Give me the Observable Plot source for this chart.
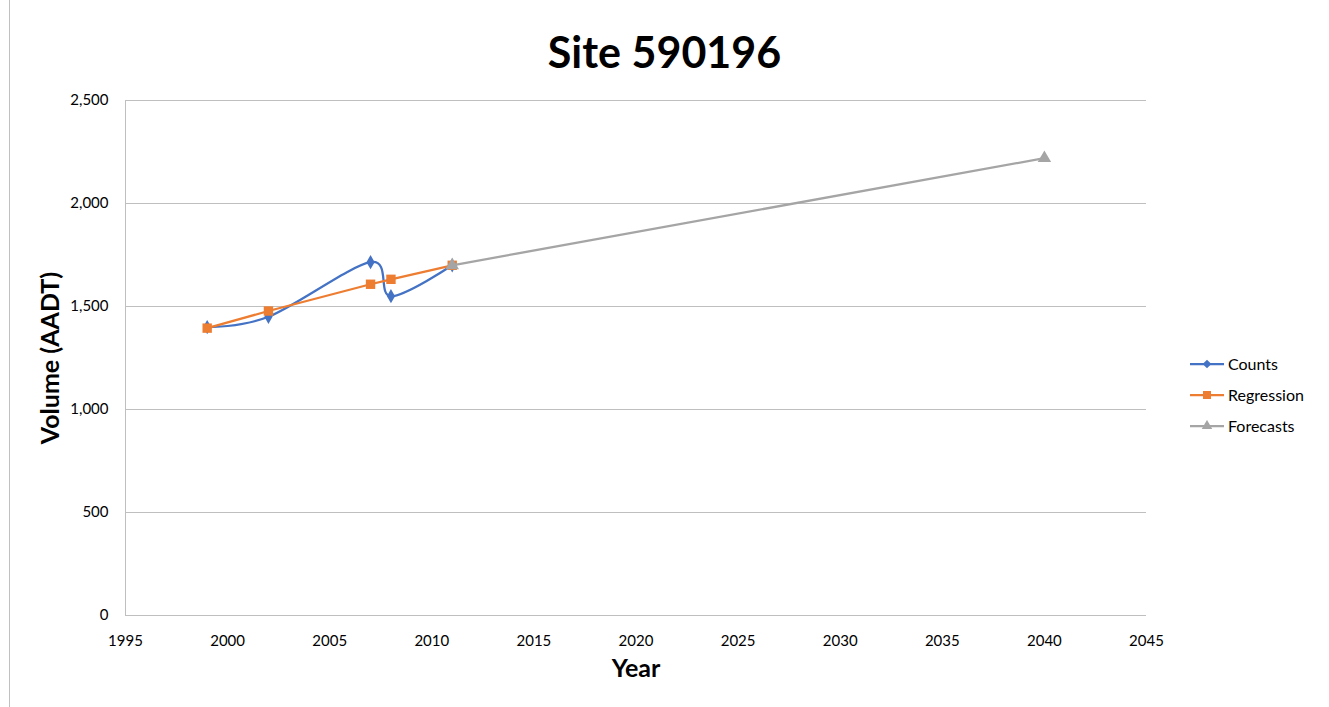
<!DOCTYPE html>
<html>
<head>
<meta charset="utf-8">
<script src="https://cdn.jsdelivr.net/npm/d3@7"></script>
<script src="https://cdn.jsdelivr.net/npm/@observablehq/plot@0.6"></script>
<style>
  html, body { margin: 0; padding: 0; background: #fff; }
  #wrap { position: relative; width: 1329px; height: 707px; overflow: hidden; font-family: Lato, "Open Sans", sans-serif; }
  #wrap svg { position: absolute; left: 0; top: 0; }
  #title { position: absolute; left: 0; width: 1329px; top: 26px; text-align: center; font-size: 43px; font-weight: bold; color: #000; line-height: 52px; }
  #edge { position: absolute; left: 9px; top: 0; width: 0; height: 707px; border-left: 1px solid #c0c0c0; }
  #legend { position: absolute; left: 1190px; top: 348px; font-size: 16px; color: #000; }
  .item { display: flex; align-items: center; height: 31px; }
  .item svg { position: static !important; margin-right: 4px; }
</style>
</head>
<body>
<div id="wrap">
  <div id="edge"></div>
  <div id="title">Site 590196</div>
  <div id="legend"></div>
</div>
<script>
const countYears = [1999, 2002, 2007, 2008, 2011];
const countValues = [1400, 1450, 1715, 1550, 1700];
const regressionYears = [1999, 2002, 2007, 2008, 2011];
const regressionValues = [1395, 1478, 1608, 1632, 1700];
const forecastYears = [2011, 2040];
const forecastValues = [1700, 2220];
const xTicks = [1995, 2000, 2005, 2010, 2015, 2020, 2025, 2030, 2035, 2040, 2045];
const yTicks = [0, 500, 1000, 1500, 2000, 2500];
const seriesNames = ["Counts", "Regression", "Forecasts"];
const seriesColors = ["#4472C4", "#ED7D31", "#A5A5A5"];
const seriesSymbols = ["diamond", "square", "triangle"];

const counts = countYears.map((x, i) => ({x, y: countValues[i]}));
const regression = regressionYears.map((x, i) => ({x, y: regressionValues[i]}));
const forecasts = forecastYears.map((x, i) => ({x, y: forecastValues[i]}));

const gridColor = "#bfbfbf";

const chart = Plot.plot({
  width: 1329,
  height: 707,
  marginLeft: 125,
  marginRight: 183,
  marginTop: 100,
  marginBottom: 92,
  style: {fontFamily: "Lato, 'Open Sans', sans-serif", fontSize: "15px", color: "#000", background: "transparent"},
  x: {domain: [1995, 2045]},
  y: {domain: [0, 2500]},
  marks: [
    Plot.ruleY(yTicks.filter(d => d > 0), {stroke: gridColor, strokeWidth: 1}),
    Plot.ruleY([0], {stroke: gridColor, strokeWidth: 1}),
    Plot.ruleX([1995], {y1: 0, y2: 2500, stroke: gridColor, strokeWidth: 1}),
    Plot.axisX({ticks: xTicks, tickSize: 0, tickPadding: 20, tickFormat: d => String(d), label: null, fontSize: 15}),
    Plot.axisY({ticks: yTicks, tickSize: 0, tickPadding: 17, tickFormat: d3.format(","), label: null, fontSize: 15}),
    Plot.text(["Year"], {frameAnchor: "bottom", dy: 61, fontSize: 25, fontWeight: "bold", fill: "#000"}),
    Plot.text(["Volume (AADT)"], {frameAnchor: "left", textAnchor: "middle", dx: -75, rotate: -90, fontSize: 25, fontWeight: "bold", fill: "#000"}),
    Plot.line(counts, {x: "x", y: "y", stroke: seriesColors[0], strokeWidth: 2.25, curve: "cardinal"}),
    Plot.dot(counts, {x: "x", y: "y", symbol: seriesSymbols[0], fill: seriesColors[0], r: 4.3}),
    Plot.line(regression, {x: "x", y: "y", stroke: seriesColors[1], strokeWidth: 2.25}),
    Plot.dot(regression, {x: "x", y: "y", symbol: seriesSymbols[1], fill: seriesColors[1], r: 5.3}),
    Plot.line(forecasts, {x: "x", y: "y", stroke: seriesColors[2], strokeWidth: 2.25}),
    Plot.dot(forecasts, {x: "x", y: "y", symbol: seriesSymbols[2], fill: seriesColors[2], r: 5})
  ]
});
document.getElementById("wrap").prepend(chart);

const legend = document.getElementById("legend");
seriesNames.forEach((name, i) => {
  const item = document.createElement("div");
  item.className = "item";
  const sw = d3.create("svg").attr("width", 34).attr("height", 12);
  sw.append("line").attr("x1", 0).attr("x2", 34).attr("y1", 6).attr("y2", 6)
    .attr("stroke", seriesColors[i]).attr("stroke-width", 2.25);
  const sym = {diamond: d3.symbolDiamond2, square: d3.symbolSquare, triangle: d3.symbolTriangle}[seriesSymbols[i]];
  sw.append("path").attr("d", d3.symbol(sym, i === 1 ? 64 : 48)()).attr("transform", "translate(17,6)")
    .attr("fill", seriesColors[i]);
  item.appendChild(sw.node());
  const t = document.createElement("span");
  t.textContent = name;
  item.appendChild(t);
  legend.appendChild(item);
});
</script>
</body>
</html>
